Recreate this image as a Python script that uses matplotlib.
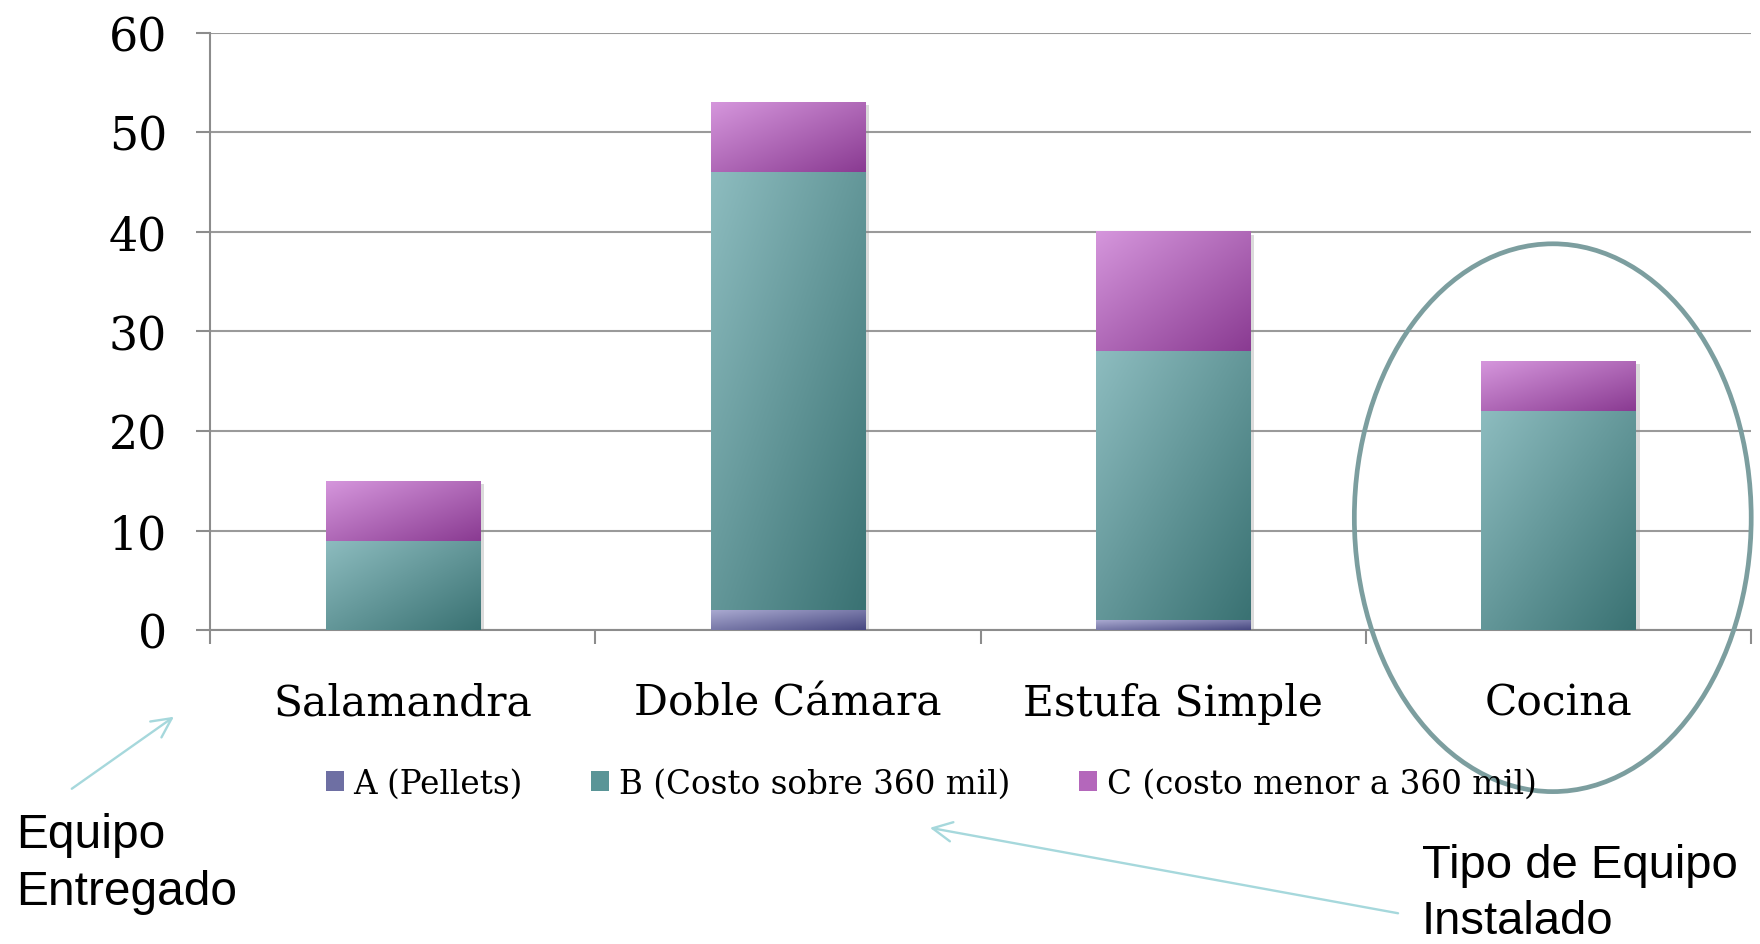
import numpy as np
import matplotlib
matplotlib.use("Agg")
import matplotlib.pyplot as plt
import matplotlib.patheffects as pe
from matplotlib.colors import LinearSegmentedColormap
from matplotlib.patches import Ellipse, FancyArrowPatch, Patch

# Data
categories = ["Salamandra", "Doble Cámara", "Estufa Simple", "Cocina"]
a_pellets = [0, 2, 1, 0]
b_sobre_360 = [9, 44, 27, 22]
c_menor_360 = [6, 7, 12, 5]
series_labels = ["A (Pellets)", "B (Costo sobre 360 mil)", "C (costo menor a 360 mil)"]
y_ticks = [0, 10, 20, 30, 40, 50, 60]

# light -> dark gradient ends for each series
SERIES_COLORS = [
    ("#a9a9d0", "#474880"),
    ("#8dbcbf", "#3a7273"),
    ("#d596dc", "#8a3b92"),
]
MID_COLORS = ["#6e6fa3", "#5a9597", "#b467bb"]

SERIF = ["DejaVu Serif"]
SANS = ["Liberation Sans", "DejaVu Sans"]
BAR_WIDTH = 0.40


def gradient_fill(ax, rect, light, dark):
    """Paint a diagonal light-to-dark gradient over a bar rectangle."""
    x0, y0 = rect.get_x(), rect.get_y()
    w, h = rect.get_width(), rect.get_height()
    if h <= 0:
        return
    u = np.linspace(0, 1, 80)
    v = np.linspace(0, 1, 80)
    uu, vv = np.meshgrid(u, v)
    t = (uu + vv) / 2
    cmap = LinearSegmentedColormap.from_list("g", [light, dark])
    ax.imshow(t, cmap=cmap, vmin=0, vmax=1, extent=[x0, x0 + w, y0, y0 + h],
              origin="upper", aspect="auto", interpolation="bilinear", zorder=3)


fig = plt.figure(figsize=(17.6, 9.45), dpi=100)
ax = fig.add_axes([0.1193, 0.332, 0.8757, 0.6324])

x = np.arange(len(categories))
bottoms = np.zeros(len(categories))
shadow = [pe.SimplePatchShadow(offset=(3, -2), shadow_rgbFace="#888888", alpha=0.3), pe.Normal()]
for values, (light, dark), mid in zip([a_pellets, b_sobre_360, c_menor_360], SERIES_COLORS, MID_COLORS):
    bars = ax.bar(x, values, BAR_WIDTH, bottom=bottoms, color=mid, zorder=2,
                  path_effects=shadow)
    for rect in bars:
        gradient_fill(ax, rect, light, dark)
    bottoms += np.array(values)

ax.set_xlim(-0.5, 3.5)
ax.set_ylim(0, 60)

# axes styling
for side in ["top", "right"]:
    ax.spines[side].set_visible(False)
for side in ["left", "bottom"]:
    ax.spines[side].set_color("#8c8c8c")
    ax.spines[side].set_linewidth(1.5)
ax.set_yticks(y_ticks)
ax.set_yticklabels([str(t) for t in y_ticks], fontfamily=SERIF, fontsize=33)
ax.tick_params(axis="y", length=10, width=1.5, color="#8c8c8c", pad=21)
ax.yaxis.grid(True, color="#9a9a9a", linewidth=1.5, zorder=0)
ax.set_axisbelow(True)

ax.set_xticks(x)
ax.set_xticklabels(categories, fontfamily=SERIF, fontsize=30.5)
ax.set_xticks(np.arange(-0.5, 4.0, 1.0), minor=True)
ax.tick_params(axis="x", which="major", length=0, pad=37)
ax.tick_params(axis="x", which="minor", length=10, width=1.5, color="#8c8c8c")

# legend
handles = [Patch(facecolor=c, edgecolor="none") for c in MID_COLORS]
fig.legend(handles, series_labels, loc="center", bbox_to_anchor=(0.529, 0.1698),
           ncol=3, frameon=False, prop={"family": SERIF, "size": 23.5},
           handlelength=0.55, handleheight=0.55, handletextpad=0.3, columnspacing=2.1)

# highlight around the last category
ax.add_patch(Ellipse((2.985, 11.3), 1.03, 55.0, fill=False, edgecolor="#7c9e9f",
                     linewidth=3.4, clip_on=False, zorder=5))

# callout arrows and notes
arrow_kw = dict(arrowstyle="->,head_length=14,head_width=7", color="#a6d8dc",
                linewidth=1.7, transform=fig.transFigure)
fig.add_artist(FancyArrowPatch((0.0395, 0.1626), (0.1001, 0.2422), **arrow_kw))
fig.add_artist(FancyArrowPatch((0.7959, 0.0320), (0.5268, 0.1235), **arrow_kw))

fig.text(0.0089, 0.0855, "Equipo\nEntregado", family=SANS, fontsize=34.5,
         ha="left", va="center", linespacing=1.34)
fig.text(0.808, 0.054, "Tipo de Equipo\nInstalado", family=SANS, fontsize=34,
         ha="left", va="center", linespacing=1.34)

fig.savefig("out.png", dpi=100)
